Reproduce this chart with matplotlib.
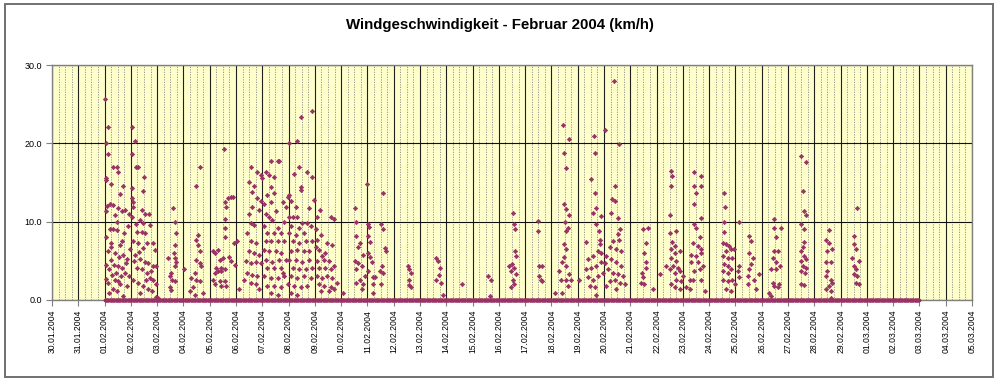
import pandas as pd
import matplotlib
matplotlib.use("Agg")
import matplotlib.pyplot as plt
import matplotlib.dates as mdates
from matplotlib.patches import Rectangle
from matplotlib.ticker import FixedLocator, FormatStrFormatter

plt.rcParams['font.family'] = ['Liberation Sans', 'DejaVu Sans']

# non-zero readings per day: (hour of day, km/h)
feb01 = [(0.6, 25.7), (3.1, 22.1), (0.9, 20.0), (3.1, 18.6), (7.8, 17.0), (10.9, 17.0), (12.5, 16.3),
         (0.9, 15.6), (1.6, 15.3), (6.2, 14.8), (14.0, 13.5), (17.2, 14.5), (4.7, 12.3), (7.8, 12.1),
         (12.5, 11.7), (15.6, 11.3), (0.9, 11.3), (9.4, 10.8), (4.7, 9.0), (7.8, 9.0), (10.9, 8.9),
         (1.6, 8.1), (6.2, 7.3), (14.0, 7.0), (3.1, 6.2), (9.4, 6.0), (17.2, 5.8), (20.3, 5.2),
         (6.2, 5.1), (1.6, 4.5), (12.5, 4.3), (15.6, 4.1), (18.7, 3.5), (1.6, 2.7), (9.4, 2.6),
         (12.5, 2.4), (14.0, 2.0), (7.8, 1.4), (20.3, 1.8), (4.0, 0.9), (17.2, 0.5), (22.0, 3.0),
         (23.0, 6.5), (21.0, 9.5), (10.5, 3.5), (16.0, 7.5), (4.0, 4.0), (19.0, 11.5), (7.0, 3.2),
         (13.0, 5.5), (11.5, 10.0), (2.5, 12.0), (5.5, 6.8), (8.5, 4.5), (18.0, 8.6), (22.5, 11.0),
         (20.0, 4.7), (3.5, 2.2), (11.0, 1.2), (15.0, 3.0)]
feb02 = [(0.9, 22.1), (3.9, 20.3), (0.9, 18.6), (4.8, 17.0), (6.9, 17.0), (12.3, 15.7), (0.9, 14.3),
         (10.8, 13.9), (0.9, 13.0), (1.8, 12.5), (2.4, 11.9), (9.9, 11.5), (12.9, 11.0), (16.8, 11.0),
         (0.9, 10.6), (8.4, 10.2), (11.4, 9.8), (17.4, 9.6), (5.4, 8.7), (9.9, 8.7), (12.9, 8.5),
         (2.4, 7.5), (6.9, 7.3), (14.4, 7.3), (20.4, 7.3), (21.9, 6.4), (3.9, 5.8), (8.4, 5.2),
         (12.9, 4.9), (15.9, 4.7), (20.4, 4.3), (23.4, 4.3), (5.4, 4.1), (9.9, 3.9), (14.4, 3.5),
         (17.4, 2.8), (20.4, 2.6), (2.4, 2.6), (6.9, 2.2), (11.4, 1.8), (15.9, 1.4), (8.4, 0.9),
         (23.4, 0.4), (18.5, 3.7), (22.5, 2.0), (7.5, 6.1), (3.0, 5.0), (11.0, 6.6), (19.0, 1.2),
         (13.5, 2.6), (5.0, 9.7)]
feb03 = [(14.4, 11.7), (15.9, 10.0), (16.8, 8.5), (9.9, 5.4), (15.9, 5.4), (16.8, 4.9), (15.9, 4.3),
         (12.9, 3.5), (11.4, 3.0), (13.8, 2.6), (15.9, 2.4), (12.0, 1.6), (12.9, 1.3), (0.9, 0.3),
         (16.2, 7.0), (15.0, 6.0)]
feb04 = [(0.9, 3.9), (7.1, 2.8), (10.2, 3.5), (11.8, 5.1), (11.8, 14.6), (14.9, 17.0), (13.3, 8.3),
         (11.8, 7.7), (13.3, 7.0), (14.9, 6.2), (14.9, 4.7), (16.4, 4.3), (11.8, 2.6), (14.9, 2.4),
         (18.0, 0.9), (8.7, 1.6), (10.2, 0.7), (5.6, 1.1)]
feb05 = [(3.0, 6.2), (4.5, 6.0), (7.5, 6.4), (9.0, 5.1), (12.0, 5.4), (6.0, 4.1), (10.5, 4.1),
         (13.5, 3.9), (4.5, 3.5), (7.5, 3.7), (10.5, 3.7), (3.0, 2.6), (9.0, 2.4), (13.5, 2.4),
         (4.5, 2.0), (10.5, 1.8), (15.0, 1.8), (13.5, 8.1), (13.5, 9.2), (15.0, 11.9), (16.5, 13.0),
         (19.5, 13.2), (21.0, 13.1), (13.5, 10.4), (13.5, 12.5), (12.6, 19.3), (18.0, 5.5),
         (19.5, 5.0), (22.5, 7.3), (23.4, 4.5)]
feb06 = [(1.2, 7.5), (2.7, 1.4), (13.4, 17.0), (11.9, 15.1), (19.5, 16.3), (22.5, 16.0), (23.8, 15.6),
         (16.4, 14.5), (14.9, 13.8), (19.5, 13.0), (22.5, 12.7), (14.9, 11.9), (21.0, 11.5), (11.9, 11.0),
         (13.4, 9.8), (16.4, 9.6), (10.3, 8.5), (13.4, 7.5), (17.9, 7.3), (11.9, 6.2), (16.4, 6.0),
         (21.0, 5.8), (13.4, 4.7), (17.9, 4.9), (22.5, 4.7), (10.3, 3.5), (14.9, 3.2), (19.5, 3.0),
         (13.4, 2.2), (17.9, 2.0), (21.0, 1.4), (8.8, 5.0), (7.3, 2.5)]
feb07 = [(7.7, 17.8), (13.9, 17.8), (15.4, 17.8), (3.1, 16.3), (10.8, 15.7), (7.7, 14.4), (4.6, 13.4),
         (10.8, 13.6), (1.5, 12.3), (7.7, 12.5), (3.1, 11.0), (12.3, 11.3), (6.2, 10.6), (9.2, 10.2),
         (1.5, 9.4), (13.9, 9.2), (4.6, 8.5), (10.8, 8.5), (16.9, 8.5), (3.1, 7.5), (7.7, 7.5),
         (13.9, 7.5), (20.0, 7.5), (1.5, 6.4), (6.2, 6.2), (12.3, 6.2), (16.9, 6.0), (3.1, 5.1),
         (9.2, 4.9), (15.4, 5.1), (21.6, 5.1), (4.6, 4.1), (10.8, 4.1), (16.9, 4.1), (1.5, 3.0),
         (7.7, 2.8), (13.9, 2.8), (20.0, 3.0), (4.6, 1.8), (10.8, 1.8), (16.9, 1.6), (7.7, 0.9),
         (13.9, 0.7), (21.6, 11.9), (23.1, 13.2), (20.0, 10.0), (18.5, 12.5), (6.2, 16.0),
         (23.1, 2.0), (18.5, 3.5)]
feb08 = [(11.1, 23.4), (21.6, 24.1), (8.1, 20.3), (0.6, 20.1), (9.6, 17.0), (17.1, 16.3), (5.1, 16.1),
         (21.6, 15.7), (11.1, 14.4), (11.6, 14.0), (0.6, 13.4), (2.1, 12.7), (23.1, 12.8), (6.6, 11.9),
         (18.6, 11.7), (0.3, 10.6), (3.6, 10.6), (8.1, 10.6), (12.6, 9.8), (17.1, 9.8), (2.1, 9.4),
         (9.6, 9.2), (20.1, 9.4), (0.6, 8.5), (6.6, 8.3), (14.1, 8.5), (3.6, 7.5), (9.6, 7.3),
         (15.6, 7.5), (21.6, 7.5), (2.1, 6.2), (8.1, 6.4), (14.1, 6.2), (18.6, 6.2), (0.6, 5.1),
         (6.6, 5.1), (12.6, 4.9), (18.6, 5.1), (3.6, 4.1), (9.6, 3.9), (15.6, 3.9), (21.6, 4.1),
         (2.1, 3.0), (8.1, 2.8), (14.1, 3.0), (20.1, 2.8), (5.1, 1.8), (11.1, 1.6), (17.1, 1.8),
         (8.1, 0.7), (2.1, 0.9)]
feb09 = [(2.1, 10.6), (14.3, 10.6), (17.3, 10.4), (2.1, 7.7), (5.2, 8.3), (0.6, 6.8), (3.6, 6.4),
         (6.7, 5.6), (2.1, 5.0), (8.2, 5.1), (12.8, 5.0), (3.6, 4.1), (9.7, 4.1), (14.3, 3.9),
         (2.1, 3.0), (6.7, 2.8), (11.2, 3.0), (15.8, 2.8), (3.6, 2.0), (8.2, 1.8), (14.3, 1.6),
         (5.2, 1.2), (12.8, 1.2), (17.3, 1.4), (11.2, 7.3), (15.8, 7.0), (9.7, 6.0), (17.3, 4.3),
         (20.4, 2.2), (0.6, 9.0), (4.6, 11.5)]
feb10 = [(1.6, 0.9), (12.5, 11.8), (13.4, 10.0), (14.0, 8.2), (15.6, 6.8), (12.5, 5.0), (15.6, 4.7),
         (14.0, 3.9), (17.2, 2.6), (18.7, 1.4), (20.3, 5.7), (21.8, 3.1), (23.4, 14.8), (18.7, 4.4),
         (17.2, 7.3), (20.3, 2.0), (14.0, 2.2)]
feb11 = [(0.9, 9.7), (1.8, 9.3), (0.3, 8.2), (2.4, 7.4), (0.9, 6.0), (2.4, 5.5), (3.8, 4.8),
         (0.9, 3.7), (4.7, 2.9), (5.3, 2.0), (14.2, 13.6), (12.7, 9.7), (14.2, 9.0), (15.7, 6.7),
         (17.2, 6.3), (11.2, 3.7), (14.2, 3.5), (12.7, 2.0), (6.8, 2.9), (4.7, 0.9), (13.6, 4.4)]
feb12 = [(12.8, 4.3), (14.3, 3.9), (15.8, 3.5), (14.3, 2.6), (15.8, 1.6), (13.7, 1.9)]
feb13 = [(14.8, 5.4), (16.3, 5.0), (17.9, 4.1), (14.8, 2.6), (19.4, 2.2), (20.9, 0.7), (17.2, 3.2)]
feb14 = [(13.9, 2.0)]
feb15 = [(14.1, 3.1), (17.1, 2.6), (15.6, 0.5)]
feb16 = [(12.6, 11.1), (14.1, 9.7), (14.4, 9.0), (15.0, 6.3), (15.6, 5.6), (9.6, 4.3), (11.1, 3.7),
         (14.1, 4.1), (15.6, 3.3), (12.6, 2.6), (11.1, 1.6), (14.1, 2.0), (12.0, 4.6)]
feb17 = [(12.0, 10.1), (12.0, 8.8), (12.6, 4.4), (15.6, 4.3), (12.6, 3.1), (14.1, 2.6), (15.6, 2.4)]
feb18 = [(10.9, 22.3), (15.6, 20.5), (11.9, 18.8), (13.1, 16.9), (11.9, 12.2), (13.7, 11.6),
         (15.6, 10.8), (12.5, 9.9), (14.7, 9.2), (13.7, 8.8), (11.5, 7.1), (13.7, 6.5), (10.0, 4.8),
         (13.1, 4.3), (6.9, 3.7), (8.4, 2.6), (13.1, 2.6), (17.8, 2.6), (14.7, 1.8), (3.7, 0.9),
         (10.0, 0.9), (11.5, 5.5), (16.2, 3.3)]
feb19 = [(1.5, 2.6), (7.7, 7.4), (11.7, 15.4), (15.4, 13.6), (14.8, 20.9), (15.7, 18.8), (16.9, 11.8),
         (13.9, 11.1), (21.6, 10.7), (16.9, 9.7), (19.4, 8.8), (20.6, 7.7), (20.0, 7.1), (9.2, 5.2),
         (13.9, 5.6), (18.5, 6.3), (21.6, 6.0), (7.7, 3.9), (12.3, 4.1), (16.9, 4.3), (21.6, 4.8),
         (9.2, 2.9), (13.9, 2.6), (18.5, 3.1), (23.1, 3.5), (10.8, 1.8), (15.4, 1.6), (16.9, 0.7)]
feb20 = [(0.9, 21.7), (8.8, 27.9), (13.4, 19.9), (9.7, 14.6), (7.6, 12.9), (9.7, 12.6), (6.7, 11.1),
         (12.8, 10.5), (14.3, 9.0), (12.8, 8.4), (8.2, 7.5), (11.2, 6.5), (15.8, 6.3), (2.1, 5.6),
         (6.7, 5.2), (11.2, 4.8), (15.8, 4.3), (3.6, 3.9), (8.2, 3.5), (12.8, 3.3), (17.3, 3.1),
         (5.2, 2.4), (9.7, 2.6), (14.3, 2.2), (18.8, 2.0), (2.1, 1.8), (11.2, 1.4), (0.6, 4.7),
         (5.2, 6.8), (13.7, 7.7)]
feb21 = [(11.4, 9.0), (15.9, 9.2), (14.4, 7.3), (12.9, 6.0), (14.4, 4.8), (11.4, 2.9), (9.9, 2.2),
         (12.9, 2.0), (20.4, 1.4), (14.4, 4.1), (10.8, 3.5)]
feb22 = [(2.7, 3.3), (8.8, 4.3), (13.4, 16.5), (14.3, 15.8), (13.4, 14.6), (11.9, 10.9), (11.9, 8.6),
         (17.9, 8.8), (14.3, 7.4), (16.4, 6.9), (13.4, 6.5), (16.4, 6.0), (21.0, 6.3), (13.4, 5.4),
         (17.9, 5.0), (14.9, 4.3), (19.5, 4.1), (11.9, 3.9), (16.4, 3.5), (21.0, 3.7), (23.8, 3.1),
         (17.9, 2.6), (22.5, 2.4), (13.4, 2.0), (16.4, 1.6), (21.0, 1.4)]
feb23 = [(10.6, 16.3), (16.7, 15.8), (10.6, 14.6), (16.7, 14.6), (12.2, 13.6), (10.6, 12.2),
         (16.7, 10.5), (10.6, 9.7), (11.6, 9.2), (15.2, 8.0), (9.1, 7.3), (13.7, 6.9), (16.7, 6.5),
         (7.6, 5.8), (12.2, 5.6), (16.7, 6.0), (7.6, 4.8), (13.7, 4.8), (18.2, 4.3), (10.6, 3.7),
         (15.2, 3.9), (6.1, 2.6), (9.1, 2.6), (16.7, 2.6), (3.0, 1.6), (6.1, 1.4), (19.8, 1.2)]
feb24 = [(13.8, 13.6), (14.7, 11.9), (13.8, 9.9), (13.8, 8.7), (12.3, 7.3), (15.3, 7.1), (18.3, 6.9),
         (15.3, 6.3), (19.8, 6.5), (22.8, 6.5), (12.3, 5.6), (16.8, 5.4), (21.3, 5.4), (13.8, 4.6),
         (16.8, 4.3), (19.8, 3.9), (12.3, 3.7), (16.8, 3.5), (12.3, 2.6), (16.8, 2.4), (21.3, 2.6),
         (15.3, 1.4), (19.8, 1.1), (23.7, 2.0)]
feb25 = [(3.4, 10.0), (3.4, 4.3), (2.8, 3.7), (3.4, 2.9), (11.1, 2.0), (11.1, 3.1), (12.6, 3.9),
         (14.2, 4.6), (12.6, 6.0), (14.2, 7.5), (12.6, 8.2), (17.2, 2.6), (18.8, 1.4), (15.7, 5.3),
         (21.9, 3.3)]
feb26 = [(11.6, 10.4), (11.6, 9.2), (17.6, 9.2), (13.1, 8.0), (11.6, 6.3), (14.6, 6.3), (10.0, 5.4),
         (13.1, 4.8), (8.5, 3.9), (13.1, 3.9), (10.0, 2.2), (11.6, 1.8), (14.6, 1.6), (16.1, 2.1),
         (7.0, 0.9), (8.5, 0.5), (16.7, 4.3)]
feb27 = [(11.9, 18.4), (16.4, 17.6), (14.0, 13.9), (14.9, 11.4), (16.4, 10.9), (11.9, 9.7), (14.9, 9.0),
         (14.9, 7.4), (11.9, 6.3), (14.9, 5.6), (11.9, 5.0), (13.4, 4.3), (16.4, 4.1), (11.9, 3.7),
         (15.8, 3.5), (11.9, 2.0), (14.9, 1.9), (13.4, 6.8), (16.4, 5.2)]
feb28 = [(13.5, 8.9), (10.5, 7.7), (13.5, 7.3), (16.5, 6.5), (12.0, 6.3), (10.5, 4.8), (15.0, 4.8),
         (12.0, 3.7), (10.5, 3.1), (15.0, 2.6), (16.5, 2.2), (13.5, 1.8), (10.5, 1.4), (15.0, 1.1),
         (15.0, 0.3)]
feb29 = [(15.4, 11.8), (12.3, 8.2), (12.3, 7.1), (13.9, 6.5), (10.8, 5.4), (12.3, 4.3), (13.9, 3.9),
         (16.9, 5.0), (12.3, 3.3), (15.4, 3.1), (13.9, 2.2), (16.9, 2.0)]

daily_readings = [feb01, feb02, feb03, feb04, feb05, feb06, feb07, feb08, feb09, feb10,
                  feb11, feb12, feb13, feb14, feb15, feb16, feb17, feb18, feb19, feb20,
                  feb21, feb22, feb23, feb24, feb25, feb26, feb27, feb28, feb29]
first_day = "2004-02-01"

# calm readings (0.0 km/h) logged over the whole period
calm_start = "2004-02-01 00:00"
calm_end = "2004-03-03 00:00"
calm_step = "30min"

axis_start = "2004-01-30"
axis_end = "2004-03-05"
y_ticks = [0, 10, 20, 30]

# build the series
times = []
speeds = []
for i, readings in enumerate(daily_readings):
    day = pd.Timestamp(first_day) + pd.Timedelta(days=i)
    for h, v in readings:
        times.append(day + pd.Timedelta(hours=h))
        speeds.append(v)
calm_times = pd.date_range(calm_start, calm_end, freq=calm_step)

fig = plt.figure(figsize=(10, 3.82), dpi=100)
ax = fig.add_axes([0.052, 0.2147, 0.920, 0.6151])
ax.set_facecolor("#ffffcc")

purple = "#993366"
ax.plot(mdates.date2num(calm_times), [0.0] * len(calm_times), linestyle="none",
        marker="D", ms=1.8, color=purple, mec=purple, mew=0.5, clip_on=False, zorder=3)
ax.plot(mdates.date2num(times), speeds, linestyle="none",
        marker="D", ms=2.2, color=purple, mec=purple, mew=0.5, zorder=3)

ax.set_xlim(mdates.date2num(pd.Timestamp(axis_start)), mdates.date2num(pd.Timestamp(axis_end)))
ax.set_ylim(0, 30)

ax.xaxis.set_major_locator(mdates.DayLocator())
ax.xaxis.set_major_formatter(mdates.DateFormatter("%d.%m.%Y"))
ax.xaxis.set_minor_locator(mdates.HourLocator(byhour=[6, 12, 18]))
ax.yaxis.set_major_locator(FixedLocator(y_ticks))
ax.yaxis.set_major_formatter(FormatStrFormatter("%.1f"))

ax.set_axisbelow(True)
ax.grid(True, which="major", axis="x", color="#202020", linewidth=0.8)
ax.grid(True, which="minor", axis="x", color="#8c8c8c", linewidth=0.6, linestyle=(0, (1.5, 1.5)))
ax.grid(True, which="major", axis="y", color="#101010", linewidth=0.8)

for s in ax.spines.values():
    s.set_color("#808080")
    s.set_linewidth(1.0)

ax.tick_params(axis="x", which="major", length=4, color="#808080", labelsize=6.2,
               labelrotation=90, pad=3)
ax.tick_params(axis="x", which="minor", length=0)
ax.tick_params(axis="y", length=4, color="#808080", labelsize=6.5, pad=3)

fig.text(0.5, 0.935, "Windgeschwindigkeit - Februar 2004 (km/h)", ha="center", va="center",
         fontsize=10.8, fontweight="bold")

fig.patches.append(Rectangle((0.005, 0.013), 0.988, 0.976, transform=fig.transFigure,
                             fill=False, edgecolor="#707070", linewidth=1.4))

fig.savefig("out.png", dpi=100)
